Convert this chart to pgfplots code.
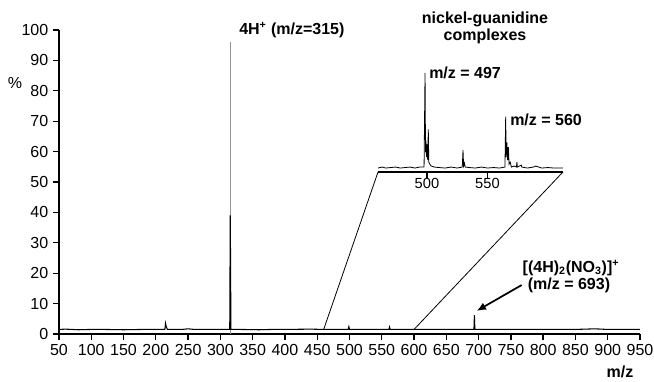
\documentclass[border=0pt]{standalone}
\usepackage{pgfplots}
\pgfplotsset{compat=1.18}
\usepackage{fontspec}
\setmainfont{Liberation Sans}
\usetikzlibrary{arrows.meta}
\begin{document}
\begin{tikzpicture}
\useasboundingbox (0,0) rectangle (490.5pt,286.5pt);
% main spectrum
\begin{axis}[
  at={(44.25pt,36pt)}, anchor=south west,
  scale only axis, width=435.75pt, height=228pt,
  xmin=50, xmax=950, ymin=0, ymax=100,
  axis x line=bottom, axis y line=left,
  axis line style={line width=1.6pt,-},
  xtick={50,100,...,950}, ytick={0,10,...,100},
  tick align=outside, major tick length=4.5pt,
  tick style={black, line width=1pt},
  tick label style={font=\fontsize{12}{14}\selectfont},
  /pgf/number format/assume math mode=true,
  clip=false,
]
\addplot[ycomb, color=black!42, line width=0.9pt, mark=none] coordinates {(315.3,96)};
\addplot[black, line width=0.8pt, sharp plot, mark=none] coordinates {
(50,1.5) (60,1.6) (80,1.4) (100,1.5) (120,1.5) (150,1.4) (180,1.5) (200,1.5)
(214,1.5) (215,3.5) (216,2.5) (217,2) (218,1.5) (240,1.5) (250,1.7) (260,1.5)
(290,1.5) (314.5,1.5) (315.3,39) (315.8,22) (316.3,1.5) (330,1.5) (360,1.4)
(380,1.5) (400,1.5) (440,1.6) (460,1.5) (480,1.5) (498,1.5) (499,2.4) (500,1.5)
(530,1.5) (561,1.5) (562,2.3) (563,1.5) (600,1.5) (650,1.5) (692.8,1.5)
(693.5,6.2) (694.2,1.5) (720,1.5) (760,1.5) (800,1.5) (850,1.5) (880,1.7)
(900,1.5) (950,1.5)};
% connectors to the inset
\draw[black, line width=0.6pt] (axis cs:460,1.5) -- (axis cs:544.2,53.3);
\draw[black, line width=0.6pt] (axis cs:600,1.5) -- (axis cs:830.7,53.3);
% arrow to m/z 693
\draw[black, line width=1.3pt, -{Latex[length=7pt,width=6pt]}] (axis cs:766.7,16.1) -- (axis cs:697,7.6);
\end{axis}
% inset
\begin{axis}[
  at={(283.5pt,157.5pt)}, anchor=south west,
  scale only axis, width=138.75pt, height=74.25pt,
  xmin=459.5, xmax=612.5, ymin=0, ymax=100,
  axis x line=bottom, axis y line=none,
  axis line style={line width=1.6pt,-},
  xtick={500,550},
  tick align=outside, major tick length=4.5pt,
  tick style={black, line width=1pt},
  tick label style={font=\fontsize{11}{13}\selectfont},
  xticklabel style={yshift=3pt},
  /pgf/number format/assume math mode=true,
  clip=false,
]
\addplot[black, line width=0.6pt, sharp plot, mark=none] coordinates {
(459.5,4) (463,5) (466,4) (470,4.5) (474,5) (478,4) (482,4.5) (486,5) (490,4)
(494,5) (497.6,5) (498.4,100) (498.8,20) (499.2,32) (499.6,15) (500.1,28)
(500.6,12) (501.1,43) (501.5,10) (502.3,8) (503.5,6) (506,5) (510,4.5) (515,4)
(520,5) (525,4) (529.2,5) (529.8,22) (530.3,6) (531,9) (531.6,5) (535,4.5)
(540,4) (545,5) (550,4) (555,4.5) (560,4) (564.5,5) (565.1,56) (565.5,15)
(566.1,30) (566.7,12) (567.3,25) (567.9,8) (568.8,10) (569.8,5) (572,6)
(574,5) (574.4,10) (574.8,5) (578,7) (578.4,5) (583,4) (588,5) (590,6)
(595,4) (600,4.5) (605,4) (612.5,4)};
\end{axis}
% annotations (pixel coordinates of the reference)
\begin{scope}[x=0.75pt, y=-0.75pt, yshift=286.5pt]
\node[font=\fontsize{12}{14}\selectfont\bfseries, anchor=west, inner sep=0pt] at (239,30) {4H\textsuperscript{+} (m/z=315)};
\node[font=\fontsize{12}{12.5}\selectfont\bfseries, align=center, inner sep=0pt] at (485,28) {nickel-guanidine\\complexes};
\node[font=\fontsize{12}{14}\selectfont\bfseries, anchor=west, inner sep=0pt] at (429,73) {m/z = 497};
\node[font=\fontsize{12}{14}\selectfont\bfseries, anchor=west, inner sep=0pt] at (510,120) {m/z = 560};
\node[font=\fontsize{12}{14}\selectfont\bfseries, inner sep=0pt] at (571,268) {[(4H)\textsubscript{2}(NO\textsubscript{3})]\textsuperscript{+}};
\node[font=\fontsize{12}{14}\selectfont\bfseries, inner sep=0pt] at (569,285) {(m/z = 693)};
\node[font=\fontsize{12}{14}\selectfont\bfseries, inner sep=0pt] at (620,372) {m/z};
\node[font=\fontsize{12}{14}\selectfont, inner sep=0pt] at (15,83) {\%};
\end{scope}
\end{tikzpicture}
\end{document}
